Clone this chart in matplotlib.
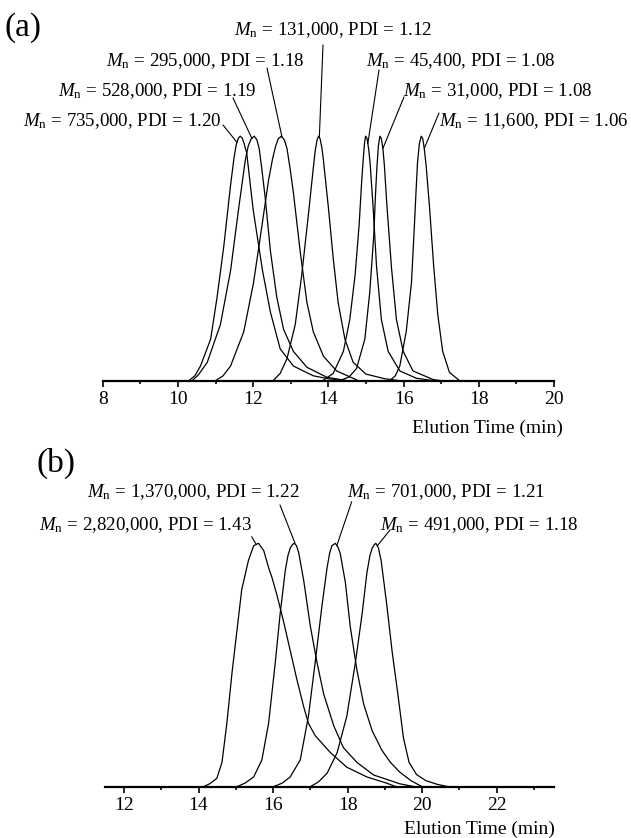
import matplotlib
matplotlib.use('Agg')
import matplotlib.pyplot as plt
from matplotlib.ticker import MultipleLocator

plt.rcParams['font.family'] = 'Liberation Serif'
plt.rcParams['mathtext.fontset'] = 'custom'
plt.rcParams['mathtext.rm'] = 'Liberation Serif'
plt.rcParams['mathtext.it'] = 'Liberation Serif:italic'

# ---- panel (a) data: elution time (min) vs normalised RI signal ----
a_mn = ['735,000', '528,000', '295,000', '131,000', '45,400', '31,000', '11,600']
a_pdi = ['1.20', '1.19', '1.18', '1.12', '1.08', '1.08', '1.06']

a1_t = [10.29, 10.45, 10.6, 10.87, 11.04, 11.22, 11.40, 11.49, 11.55, 11.61, 11.66, 11.71, 11.76, 11.83, 12.0,
        12.25, 12.46, 12.72, 13.07, 13.6, 14.0, 14.5]
a1_h = [0, 0.02, 0.06, 0.17, 0.34, 0.55, 0.80, 0.91, 0.965, 0.993, 1.0, 0.992, 0.97, 0.93, 0.70,
        0.45, 0.28, 0.13, 0.06, 0.02, 0.008, 0]
a2_t = [10.38, 10.55, 10.78, 11.13, 11.40, 11.62, 11.79, 11.87, 11.95, 12.03, 12.10, 12.16, 12.22, 12.32, 12.46,
        12.63, 12.81, 13.07, 13.43, 13.96, 14.5]
a2_h = [0, 0.025, 0.075, 0.23, 0.45, 0.71, 0.90, 0.96, 0.99, 1.0, 0.985, 0.95, 0.88, 0.75, 0.53,
        0.34, 0.21, 0.12, 0.055, 0.014, 0]
a3_t = [11.0, 11.2, 11.4, 11.75, 12.01, 12.24, 12.41, 12.52, 12.60, 12.67, 12.75, 12.83, 12.9, 12.98, 13.07,
        13.25, 13.43, 13.6, 13.87, 14.22, 14.8]
a3_h = [0, 0.02, 0.06, 0.2, 0.4, 0.64, 0.82, 0.91, 0.96, 0.99, 1.0, 0.985, 0.95, 0.87, 0.77,
        0.53, 0.32, 0.2, 0.1, 0.04, 0]
a4_t = [12.53, 12.72, 12.9, 13.12, 13.29, 13.47, 13.6, 13.65, 13.70, 13.74, 13.78, 13.83, 13.87, 14.0, 14.13,
        14.26, 14.44, 14.66, 15.0, 15.5, 15.9]
a4_h = [0, 0.03, 0.09, 0.23, 0.43, 0.68, 0.87, 0.94, 0.985, 1.0, 0.99, 0.95, 0.9, 0.71, 0.5,
        0.32, 0.17, 0.075, 0.027, 0.008, 0]
a5_t = [13.85, 14.13, 14.4, 14.57, 14.71, 14.82, 14.88, 14.92, 14.96, 14.99, 15.03, 15.07, 15.11, 15.19, 15.28,
        15.41, 15.59, 15.9, 16.34, 16.8]
a5_h = [0, 0.03, 0.12, 0.25, 0.43, 0.64, 0.80, 0.89, 0.97, 1.0, 0.99, 0.95, 0.89, 0.71, 0.47,
        0.25, 0.12, 0.04, 0.01, 0]
a6_t = [14.3, 14.55, 14.75, 14.97, 15.1, 15.21, 15.25, 15.29, 15.33, 15.37, 15.41, 15.45, 15.49, 15.56, 15.68,
        15.81, 15.99, 16.25, 16.78, 17.0]
a6_h = [0, 0.015, 0.05, 0.17, 0.36, 0.6, 0.75, 0.87, 0.96, 1.0, 0.99, 0.95, 0.88, 0.71, 0.46,
        0.25, 0.12, 0.04, 0.005, 0]
a7_t = [15.63, 15.78, 15.9, 16.07, 16.21, 16.29, 16.33, 16.37, 16.42, 16.47, 16.51, 16.55, 16.60, 16.69, 16.8,
        16.91, 17.04, 17.22, 17.49]
a7_h = [0, 0.02, 0.06, 0.2, 0.4, 0.64, 0.77, 0.89, 0.97, 1.0, 0.99, 0.95, 0.88, 0.71, 0.47,
        0.27, 0.12, 0.034, 0]

a_times = [a1_t, a2_t, a3_t, a4_t, a5_t, a6_t, a7_t]
a_heights = [a1_h, a2_h, a3_h, a4_h, a5_h, a6_h, a7_h]

# ---- panel (b) data ----
b_mn = ['2,820,000', '1,370,000', '701,000', '491,000']
b_pdi = ['1.43', '1.22', '1.21', '1.18']

b1_t = [14.13, 14.3, 14.49, 14.63, 14.76, 14.9, 15.03, 15.16, 15.34, 15.48, 15.61, 15.75, 15.88, 15.97, 16.1, 16.28,
        16.46, 16.64, 16.82, 16.95, 17.13, 17.54, 17.98, 18.52, 19.06, 19.3]
b1_h = [0, 0.012, 0.034, 0.1, 0.26, 0.47, 0.64, 0.81, 0.93, 0.99, 1.0, 0.97, 0.9, 0.86, 0.79, 0.68,
        0.56, 0.44, 0.33, 0.26, 0.21, 0.14, 0.08, 0.04, 0.014, 0]
b2_t = [15.03, 15.25, 15.48, 15.7, 15.88, 16.06, 16.19, 16.33, 16.40, 16.46, 16.52, 16.57, 16.63, 16.69, 16.82,
        17.0, 17.18, 17.36, 17.63, 17.89, 18.25, 18.7, 19.15, 19.4, 19.8]
b2_h = [0, 0.015, 0.04, 0.11, 0.26, 0.51, 0.71, 0.89, 0.95, 0.98, 0.995, 1.0, 0.99, 0.96, 0.85,
        0.66, 0.51, 0.38, 0.25, 0.16, 0.1, 0.048, 0.025, 0.012, 0]
b3_t = [16.01, 16.25, 16.46, 16.73, 16.95, 17.13, 17.31, 17.45, 17.52, 17.58, 17.67, 17.74, 17.8, 17.94, 18.07,
        18.25, 18.43, 18.66, 18.92, 19.15, 19.4, 19.7, 20.0]
b3_h = [0, 0.015, 0.04, 0.11, 0.29, 0.51, 0.74, 0.9, 0.96, 0.99, 1.0, 0.985, 0.96, 0.84, 0.66,
        0.48, 0.34, 0.23, 0.15, 0.1, 0.06, 0.025, 0]
b4_t = [17.0, 17.22, 17.45, 17.72, 17.98, 18.21, 18.39, 18.52, 18.60, 18.66, 18.72, 18.76, 18.83, 18.9, 19.05,
        19.2, 19.35, 19.5, 19.65, 19.85, 20.1, 20.4, 20.7]
b4_h = [0, 0.02, 0.055, 0.14, 0.29, 0.51, 0.71, 0.88, 0.95, 0.98, 0.995, 1.0, 0.98, 0.93, 0.75,
        0.55, 0.38, 0.2, 0.1, 0.05, 0.025, 0.01, 0]

b_times = [b1_t, b2_t, b3_t, b4_t]
b_heights = [b1_h, b2_h, b3_h, b4_h]

W, H = 631, 838


def px(x, y):
    # reference pixel (top-left origin) -> figure fraction
    return x / W, 1 - y / H


fig = plt.figure(figsize=(W / 100, H / 100), dpi=100)


def setup_axis(ax, xlim, major_ticks):
    ax.set_xlim(*xlim)
    ax.set_ylim(0, 1)
    for s in ['left', 'right', 'top']:
        ax.spines[s].set_visible(False)
    ax.spines['bottom'].set_linewidth(1.6)
    ax.set_yticks([])
    ax.set_xticks(major_ticks)
    ax.xaxis.set_minor_locator(MultipleLocator(1))
    ax.tick_params(axis='x', which='major', direction='out', length=4.5, width=1.2, pad=3, labelsize=14)
    ax.tick_params(axis='x', which='minor', direction='out', length=2.5, width=1.2)
    ax.patch.set_visible(False)


label_size = 13.6

# panel (a)
ax_a = fig.add_axes([102.7 / W, (H - 380.7) / H, (554 - 102.7) / W, 244.5 / H])
setup_axis(ax_a, (8, 20), range(8, 21, 2))
for t, h in zip(a_times, a_heights):
    ax_a.plot(t, h, color='black', lw=0.9, clip_on=False)

# label layout: (text x, baseline y, ha), line start in ref px, line end on curve (t, h)
a_text_pos = [(222, 126, 'right'), (257, 96, 'right'), (305, 66, 'right'), (234, 35, 'left'),
              (366, 66, 'left'), (403, 96, 'left'), (439, 126, 'left')]
a_line_start = [(223, 125), (233, 98), (267, 68), (323, 45), (379, 70), (404, 97), (439, 113)]
a_line_end = [(11.57, 0.975), (11.97, 0.99), (12.77, 0.995), (13.76, 0.995), (15.05, 0.97), (15.45, 0.95), (16.55, 0.95)]

for mn, pdi, (tx, ty, ha), ls, le in zip(a_mn, a_pdi, a_text_pos, a_line_start, a_line_end):
    fig.text(*px(tx, ty), r'$M_\mathrm{n}$ = ' + mn + ', PDI = ' + pdi, ha=ha, va='baseline', fontsize=label_size)
    ax_a.annotate('', xy=le, xycoords='data', xytext=px(*ls), textcoords='figure fraction',
                  arrowprops=dict(arrowstyle='-', lw=0.8, color='black', shrinkA=0, shrinkB=0),
                  annotation_clip=False)

fig.text(*px(5, 36), '(a)', ha='left', va='baseline', fontsize=24)
fig.text(*px(563, 433), 'Elution Time (min)', ha='right', va='baseline', fontsize=14)

# panel (b)
ax_b = fig.add_axes([105 / W, (H - 786.7) / H, (554 - 105) / W, 243.4 / H])
setup_axis(ax_b, (11.49, 23.54), range(12, 23, 2))
for t, h in zip(b_times, b_heights):
    ax_b.plot(t, h, color='black', lw=0.9, clip_on=False)

b_text_pos = [(252, 530, 'right'), (300, 497, 'right'), (347, 497, 'left'), (380, 530, 'left')]
b_line_start = [(251.7, 536.7), (280, 505), (351.7, 501.7), (390, 530)]
b_line_end = [(15.55, 0.995), (16.59, 1.0), (17.71, 0.99), (18.8, 0.99)]

for mn, pdi, (tx, ty, ha), ls, le in zip(b_mn, b_pdi, b_text_pos, b_line_start, b_line_end):
    fig.text(*px(tx, ty), r'$M_\mathrm{n}$ = ' + mn + ', PDI = ' + pdi, ha=ha, va='baseline', fontsize=label_size)
    ax_b.annotate('', xy=le, xycoords='data', xytext=px(*ls), textcoords='figure fraction',
                  arrowprops=dict(arrowstyle='-', lw=0.8, color='black', shrinkA=0, shrinkB=0),
                  annotation_clip=False)

fig.text(*px(37, 472), '(b)', ha='left', va='baseline', fontsize=24)
fig.text(*px(555, 834), 'Elution Time (min)', ha='right', va='baseline', fontsize=14)

fig.savefig('out.png', dpi=100)
